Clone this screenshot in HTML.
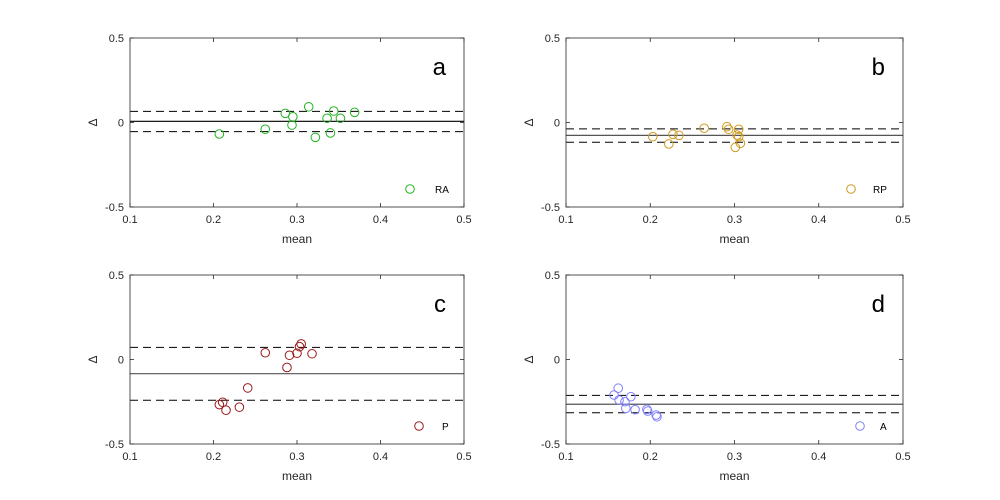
<!DOCTYPE html>
<html><head><meta charset="utf-8"><style>
body{margin:0;background:#fff}
svg{display:block;font-family:"Liberation Sans",sans-serif}
</style></head><body>
<svg id="chart" width="1000" height="500" viewBox="0 0 1000 500"></svg>
<script>
const xTicks=[0.1,0.2,0.3,0.4,0.5];
const yTicks=[-0.5,0,0.5];
const panelLetters=['a','b','c','d'];
const seriesNames=['RA','RP','P','A'];
const colors=['#22b422','#d09a1e','#9b1a1a','#8080ff'];
const aMean=[0.207,0.262,0.286,0.295,0.294,0.314,0.322,0.336,0.344,0.352,0.340,0.369];
const aDiff=[-0.068,-0.04,0.054,0.034,-0.015,0.093,-0.088,0.025,0.068,0.025,-0.062,0.060];
const bMean=[0.203,0.222,0.227,0.234,0.264,0.291,0.293,0.305,0.303,0.305,0.307,0.301];
const bDiff=[-0.084,-0.127,-0.07,-0.076,-0.034,-0.025,-0.04,-0.04,-0.074,-0.084,-0.123,-0.147];
const cMean=[0.207,0.211,0.215,0.231,0.241,0.262,0.288,0.291,0.300,0.303,0.305,0.318];
const cDiff=[-0.267,-0.253,-0.3,-0.282,-0.168,0.04,-0.047,0.025,0.037,0.076,0.092,0.034];
const dMean=[0.162,0.157,0.163,0.177,0.171,0.182,0.196,0.197,0.207,0.208,0.170];
const dDiff=[-0.170,-0.210,-0.24,-0.220,-0.289,-0.297,-0.295,-0.305,-0.329,-0.339,-0.25];
const biasLines=[0.007,-0.076,-0.084,-0.265];
const upperLoA=[0.066,-0.038,0.072,-0.212];
const lowerLoA=[-0.054,-0.117,-0.241,-0.315];
const means=[aMean,bMean,cMean,dMean];
const diffs=[aDiff,bDiff,cDiff,dDiff];
const boxes=[[130,38,464,207],[566,38,903,207],[130,275,464,444],[566,275,903,444]];
const solidColors=['#000','#555','#555','#555'];
const NS='http://www.w3.org/2000/svg';
const svg=document.getElementById('chart');
function mk(tag,attrs,parent){const e=document.createElementNS(NS,tag);for(const k in attrs)e.setAttribute(k,attrs[k]);(parent||svg).appendChild(e);return e;}
boxes.forEach((b,i)=>{
  const [L,T,R,B]=b;
  const g=mk('g',{});
  
  
  const xs=v=>L+(v-0.1)/0.4*(R-L);
  const ys=v=>T+(0.5-v)*(B-T);
  mk('rect',{x:L,y:T,width:R-L,height:B-T,fill:'#fff',stroke:'none'},g);
  // lines
  const up=mk('line',{x1:L,x2:R,y1:ys(upperLoA[i]),y2:ys(upperLoA[i]),stroke:'#000','stroke-dasharray':'8,5'},g);
  
  
  const lo=mk('line',{x1:L,x2:R,y1:ys(lowerLoA[i]),y2:ys(lowerLoA[i]),stroke:'#000','stroke-dasharray':'8,5'},g);
  
  
  const bl=mk('line',{x1:L,x2:R,y1:ys(biasLines[i]),y2:ys(biasLines[i]),stroke:solidColors[i],'stroke-width':1.2},g);
  
  
  means[i].forEach((m,j)=>{
    const c=mk('circle',{cx:xs(m),cy:ys(diffs[i][j]),r:4.3,fill:'none',stroke:colors[i],'stroke-width':1},g);
    
    
  });
  // box
  mk('rect',{x:L,y:T,width:R-L,height:B-T,fill:'none',stroke:'#262626','stroke-width':0.8},g);
  xTicks.forEach(t=>{
    const x=xs(t);
    mk('line',{x1:x,x2:x,y1:B,y2:B-4,stroke:'#262626','stroke-width':0.8},g);
    mk('line',{x1:x,x2:x,y1:T,y2:T+4,stroke:'#262626','stroke-width':0.8},g);
    const tl=mk('text',{x:x,y:B+16,'text-anchor':'middle','font-size':11,fill:'#262626'},g);
    tl.textContent=String(t);
    
    
  });
  yTicks.forEach(t=>{
    const y=ys(t);
    mk('line',{x1:L,x2:L+4,y1:y,y2:y,stroke:'#262626','stroke-width':0.8},g);
    mk('line',{x1:R,x2:R-4,y1:y,y2:y,stroke:'#262626','stroke-width':0.8},g);
    const tl=mk('text',{x:L-6,y:y+4,'text-anchor':'end','font-size':11,fill:'#262626'},g);
    tl.textContent=String(t);
    
    
  });
  const xt=mk('text',{x:(L+R)/2,y:B+36,'text-anchor':'middle','font-size':12,fill:'#262626'},g);
  xt.textContent='mean';
  
  
  const yc=(T+B)/2;
  const yt=mk('text',{x:L-33,y:yc,'text-anchor':'middle','font-size':12,fill:'#262626',transform:'rotate(-90 '+(L-33)+' '+yc+')'},g);
  yt.textContent='Δ';
  
  
  const lt=mk('text',{x:R-18,y:T+37,'text-anchor':'end','font-size':24,fill:'#000'},g);
  lt.textContent=panelLetters[i];
  
  
  const lc=mk('circle',{cx:R-(i%2?52:54)+(i>=2?9:0),cy:B-18,r:4.3,fill:'none',stroke:colors[i]},g);
  
  
  const ll=mk('text',{x:R-(i%2?30:29)+(i>=2?7:0),y:B-14,'font-size':10,fill:'#000'},g);
  ll.textContent=seriesNames[i];
  
  
});
</script>
</body></html>
